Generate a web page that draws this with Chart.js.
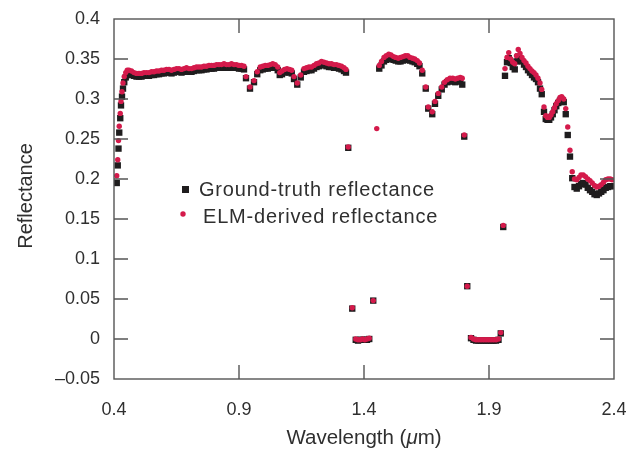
<!DOCTYPE html>
<html>
<head>
<meta charset="utf-8">
<script src="https://cdn.jsdelivr.net/npm/chart.js@4.4.1/dist/chart.umd.min.js"></script>
<style>
  html, body { margin: 0; padding: 0; background: #fff; overflow: hidden; }
  #wrap { width: 633px; height: 453px; position: relative; }
  #wrap canvas { display: block; }
</style>
</head>
<body>
<div id="wrap"><canvas id="spectrum"></canvas></div>
<script>
// band centres (um)
var wavelength = [
  0.411, 0.415, 0.418, 0.421, 0.425, 0.428, 0.432, 0.436, 0.441, 0.447, 0.453,
  0.46, 0.47, 0.48, 0.49, 0.50, 0.51, 0.52, 0.53, 0.54, 0.55, 0.56, 0.57, 0.58, 0.59,
  0.60, 0.61, 0.62, 0.63, 0.64, 0.65, 0.66, 0.67, 0.68, 0.69, 0.70, 0.71, 0.72, 0.73,
  0.74, 0.75, 0.76, 0.77, 0.78, 0.79, 0.80, 0.81, 0.82, 0.83, 0.84, 0.85, 0.86, 0.87,
  0.88, 0.89, 0.90, 0.91, 0.92,
  0.928, 0.944, 0.960, 0.973, 0.985, 0.995, 1.005, 1.015, 1.025, 1.035, 1.045, 1.055,
  1.063, 1.072, 1.082, 1.092, 1.102, 1.111, 1.120, 1.133, 1.147, 1.160, 1.170, 1.180,
  1.190, 1.200, 1.210, 1.220, 1.230, 1.240, 1.250, 1.260, 1.270, 1.280, 1.290, 1.300,
  1.310, 1.320, 1.328,
  1.337, 1.353, 1.367, 1.376, 1.385, 1.394, 1.403, 1.412, 1.421, 1.437, 1.451,
  1.461, 1.470, 1.480, 1.489, 1.499, 1.508, 1.518, 1.527, 1.537, 1.546, 1.556, 1.565,
  1.575, 1.584, 1.594, 1.603, 1.613, 1.622,
  1.633, 1.647, 1.657, 1.673, 1.684, 1.697, 1.711, 1.722, 1.733, 1.744, 1.755, 1.765,
  1.775, 1.785, 1.793, 1.801, 1.813,
  1.828, 1.838, 1.848, 1.858, 1.868, 1.878, 1.888, 1.898, 1.908, 1.918, 1.928, 1.938,
  1.947, 1.957,
  1.964, 1.972, 1.979, 1.987, 1.995, 2.003, 2.010, 2.017, 2.024, 2.032, 2.040, 2.048,
  2.056, 2.064, 2.072, 2.080, 2.088, 2.096, 2.104, 2.111, 2.120, 2.127, 2.134, 2.141,
  2.148, 2.155, 2.162, 2.169, 2.177, 2.184, 2.191, 2.199, 2.207, 2.215, 2.224, 2.233,
  2.242, 2.251, 2.260, 2.268, 2.277, 2.286, 2.295, 2.304, 2.313, 2.322, 2.331, 2.340,
  2.349, 2.358, 2.367, 2.376, 2.385, 2.393
];

var groundTruth = [
  0.195, 0.217, 0.238, 0.258, 0.276, 0.292, 0.303, 0.313, 0.321, 0.327, 0.330,
  0.331, 0.330, 0.329, 0.328, 0.328, 0.328, 0.329, 0.329, 0.329, 0.330, 0.330, 0.331, 0.331, 0.332,
  0.332, 0.333, 0.333, 0.332, 0.333, 0.334, 0.334, 0.333, 0.334, 0.335, 0.334, 0.334, 0.335, 0.336,
  0.336, 0.336, 0.337, 0.337, 0.338, 0.338, 0.338, 0.339, 0.339, 0.339, 0.340, 0.339, 0.339, 0.340,
  0.339, 0.339, 0.338, 0.338, 0.337,
  0.326, 0.313, 0.321, 0.331, 0.336, 0.337, 0.338, 0.338, 0.339, 0.340, 0.339, 0.336,
  0.330, 0.331, 0.333, 0.334, 0.333, 0.332, 0.325, 0.318, 0.327, 0.334, 0.335, 0.336,
  0.336, 0.338, 0.340, 0.341, 0.343, 0.342, 0.341, 0.340, 0.340, 0.339, 0.339, 0.338,
  0.337, 0.335, 0.333,
  0.239, 0.038, -0.001, -0.002, -0.001, -0.001, -0.001, -0.001, 0.000, 0.048, null,
  0.338, 0.342, 0.347, 0.349, 0.351, 0.350, 0.349, 0.348, 0.347, 0.347, 0.348, 0.349,
  0.349, 0.348, 0.347, 0.346, 0.344, 0.341,
  0.332, 0.313, 0.288, 0.281, 0.294, 0.304, 0.312, 0.318, 0.321, 0.322, 0.322, 0.321,
  0.322, 0.322, 0.318, 0.253, 0.066,
  0.001, -0.001, -0.002, -0.002, -0.002, -0.002, -0.002, -0.002, -0.002, -0.002, -0.002, -0.001,
  0.007, 0.140,
  0.329, 0.346, 0.351, 0.345, 0.340, 0.337, 0.347, 0.353, 0.350, 0.347, 0.343, 0.340,
  0.336, 0.333, 0.330, 0.327, 0.325, 0.321, 0.313, 0.306, 0.284, 0.275, 0.274, 0.274,
  0.277, 0.281, 0.286, 0.291, 0.295, 0.298, 0.299, 0.296, 0.281, 0.255, 0.228, 0.201,
  0.190, 0.188, 0.191, 0.194, 0.195, 0.193, 0.189, 0.186, 0.184, 0.181, 0.180, 0.182,
  0.184, 0.186, 0.189, 0.190, 0.191, 0.191
];

var elmDerived = [
  0.204, 0.224, 0.248, 0.266, 0.282, 0.297, 0.309, 0.320, 0.328, 0.333, 0.336,
  0.336, 0.335, 0.333, 0.332, 0.332, 0.332, 0.333, 0.333, 0.333, 0.334, 0.334, 0.335, 0.335, 0.336,
  0.336, 0.337, 0.337, 0.336, 0.337, 0.338, 0.338, 0.337, 0.338, 0.339, 0.338, 0.338, 0.339, 0.340,
  0.340, 0.340, 0.341, 0.341, 0.342, 0.342, 0.342, 0.343, 0.343, 0.343, 0.344, 0.343, 0.343, 0.344,
  0.343, 0.343, 0.342, 0.342, 0.341,
  0.328, 0.315, 0.323, 0.334, 0.340, 0.341, 0.342, 0.342, 0.343, 0.344, 0.343, 0.340,
  0.333, 0.335, 0.337, 0.338, 0.337, 0.336, 0.328, 0.320, 0.330, 0.338, 0.339, 0.340,
  0.340, 0.342, 0.344, 0.345, 0.347, 0.346, 0.345, 0.344, 0.344, 0.343, 0.343, 0.342,
  0.341, 0.339, 0.337,
  0.240, 0.039, 0.000, -0.001, -0.001, 0.000, -0.001, 0.000, 0.001, 0.048, 0.263,
  0.342, 0.347, 0.352, 0.354, 0.356, 0.355, 0.353, 0.352, 0.351, 0.352, 0.353, 0.354,
  0.354, 0.352, 0.351, 0.350, 0.348, 0.345,
  0.336, 0.315, 0.290, 0.284, 0.297, 0.307, 0.315, 0.321, 0.324, 0.326, 0.326, 0.325,
  0.326, 0.327, 0.326, 0.255, 0.066,
  0.002, 0.000, -0.001, -0.001, -0.001, -0.001, -0.001, -0.001, -0.001, -0.001, -0.001, 0.000,
  0.008, 0.142,
  0.338, 0.352, 0.358, 0.350, 0.346, 0.344, 0.354, 0.362, 0.357, 0.352, 0.348, 0.345,
  0.341, 0.338, 0.335, 0.333, 0.330, 0.326, 0.320, 0.312, 0.290, 0.279, 0.277, 0.277,
  0.280, 0.284, 0.289, 0.294, 0.298, 0.302, 0.303, 0.300, 0.288, 0.265, 0.236, 0.209,
  0.200, 0.199, 0.202, 0.205, 0.205, 0.203, 0.200, 0.198, 0.195, 0.192, 0.190, 0.191,
  0.193, 0.196, 0.199, 0.200, 0.200, 0.199
];

var xTicks = [0.4, 0.9, 1.4, 1.9, 2.4];
var xTickLabels = ["0.4", "0.9", "1.4", "1.9", "2.4"];
var yTicks = [-0.05, 0, 0.05, 0.1, 0.15, 0.2, 0.25, 0.3, 0.35, 0.4];
var yTickLabels = ["\u20130.05", "0", "0.05", "0.1", "0.15", "0.2", "0.25", "0.3", "0.35", "0.4"];

var seriesNames = ["Ground-truth reflectance", "ELM-derived reflectance"];
var seriesColors = ["#1f1d1e", "#d41a4b"];

var FONT = "'Liberation Sans', Arial, Helvetica, sans-serif";
var INK = "#2f2f2f";

function toPoints(values) {
  return wavelength.map(function (w, i) {
    return { x: w, y: values[i] };
  });
}

// box round the plot, ticks pointing inwards on all four sides
var framePlugin = {
  id: "frame",
  afterDraw: function (chart) {
    var ctx = chart.ctx;
    var a = chart.chartArea;
    var sx = chart.scales.x;
    var sy = chart.scales.y;
    var len = 14;
    ctx.save();
    ctx.strokeStyle = "#555";
    ctx.lineWidth = 1.4;
    ctx.strokeRect(a.left, a.top, a.right - a.left, a.bottom - a.top);
    ctx.beginPath();
    xTicks.slice(1, -1).forEach(function (v) {
      var px = sx.getPixelForValue(v);
      ctx.moveTo(px, a.bottom);
      ctx.lineTo(px, a.bottom - len);
      ctx.moveTo(px, a.top);
      ctx.lineTo(px, a.top + len);
    });
    yTicks.slice(1, -1).forEach(function (v) {
      var py = sy.getPixelForValue(v);
      ctx.moveTo(a.left, py);
      ctx.lineTo(a.left + len, py);
      ctx.moveTo(a.right, py);
      ctx.lineTo(a.right - len, py);
    });
    ctx.stroke();
    ctx.restore();
  }
};

// axis titles and the key inside the plot
var labelPlugin = {
  id: "labels",
  afterDraw: function (chart) {
    var ctx = chart.ctx;
    var a = chart.chartArea;
    ctx.save();
    ctx.fillStyle = INK;
    ctx.textBaseline = "middle";

    // x title, with an italic mu
    var parts = [
      { t: "Wavelength (", f: "20.5px " + FONT },
      { t: "\u03bc", f: "italic 20.5px " + FONT },
      { t: "m)", f: "20.5px " + FONT }
    ];
    var total = 0;
    parts.forEach(function (p) {
      ctx.font = p.f;
      p.w = ctx.measureText(p.t).width;
      total += p.w;
    });
    var x = (a.left + a.right) / 2 - total / 2;
    ctx.textAlign = "left";
    parts.forEach(function (p) {
      ctx.font = p.f;
      ctx.fillText(p.t, x, 438);
      x += p.w;
    });

    // y title
    ctx.save();
    ctx.translate(26, (a.top + a.bottom) / 2 - 3);
    ctx.rotate(-Math.PI / 2);
    ctx.textAlign = "center";
    ctx.font = "20px " + FONT;
    ctx.fillText("Reflectance", 0, 0);
    ctx.restore();

    // key
    ctx.font = "20px " + FONT;
    ctx.letterSpacing = "0.8px";
    ctx.textAlign = "left";
    ctx.fillStyle = seriesColors[0];
    ctx.fillRect(182, 186, 7, 7);
    ctx.fillStyle = INK;
    ctx.fillText(seriesNames[0], 199, 190);
    ctx.fillStyle = seriesColors[1];
    ctx.beginPath();
    ctx.arc(183, 214, 2.7, 0, Math.PI * 2);
    ctx.fill();
    ctx.fillStyle = INK;
    ctx.fillText(seriesNames[1], 203, 217);
    ctx.restore();
  }
};

new Chart("spectrum", {
  type: "scatter",
  data: {
    datasets: [
      {
        label: seriesNames[1],
        data: toPoints(elmDerived),
        pointStyle: "circle",
        pointRadius: 2.7,
        pointBorderWidth: 0,
        backgroundColor: seriesColors[1],
        order: 0
      },
      {
        label: seriesNames[0],
        data: toPoints(groundTruth),
        pointStyle: "rect",
        pointRadius: 4.5,
        pointBorderWidth: 0,
        backgroundColor: seriesColors[0],
        order: 1
      }
    ]
  },
  options: {
    responsive: true,
    maintainAspectRatio: false,
    animation: false,
    layout: { padding: { top: 19, right: 19, left: 0, bottom: 0 } },
    plugins: {
      legend: { display: false },
      tooltip: { enabled: false }
    },
    scales: {
      x: {
        type: "linear",
        min: 0.4,
        max: 2.4,
        grid: { display: false, drawTicks: false },
        border: { display: false },
        afterBuildTicks: function (scale) {
          scale.ticks = xTicks.map(function (v) { return { value: v }; });
        },
        afterFit: function (scale) {
          scale.height = 74;
          scale.paddingLeft = 0;
          scale.paddingRight = 0;
        },
        ticks: {
          padding: 20,
          color: INK,
          font: { family: FONT, size: 18 },
          maxRotation: 0,
          callback: function (v, i) { return xTickLabels[i]; }
        }
      },
      y: {
        type: "linear",
        min: -0.05,
        max: 0.4,
        grid: { display: false, drawTicks: false },
        border: { display: false },
        afterBuildTicks: function (scale) {
          scale.ticks = yTicks.map(function (v) { return { value: v }; });
        },
        afterFit: function (scale) {
          scale.width = 114;
          scale.paddingTop = 0;
          scale.paddingBottom = 0;
        },
        ticks: {
          padding: 14,
          color: INK,
          font: { family: FONT, size: 18 },
          callback: function (v, i) { return yTickLabels[i]; }
        }
      }
    }
  },
  plugins: [framePlugin, labelPlugin]
});
</script>
</body>
</html>
